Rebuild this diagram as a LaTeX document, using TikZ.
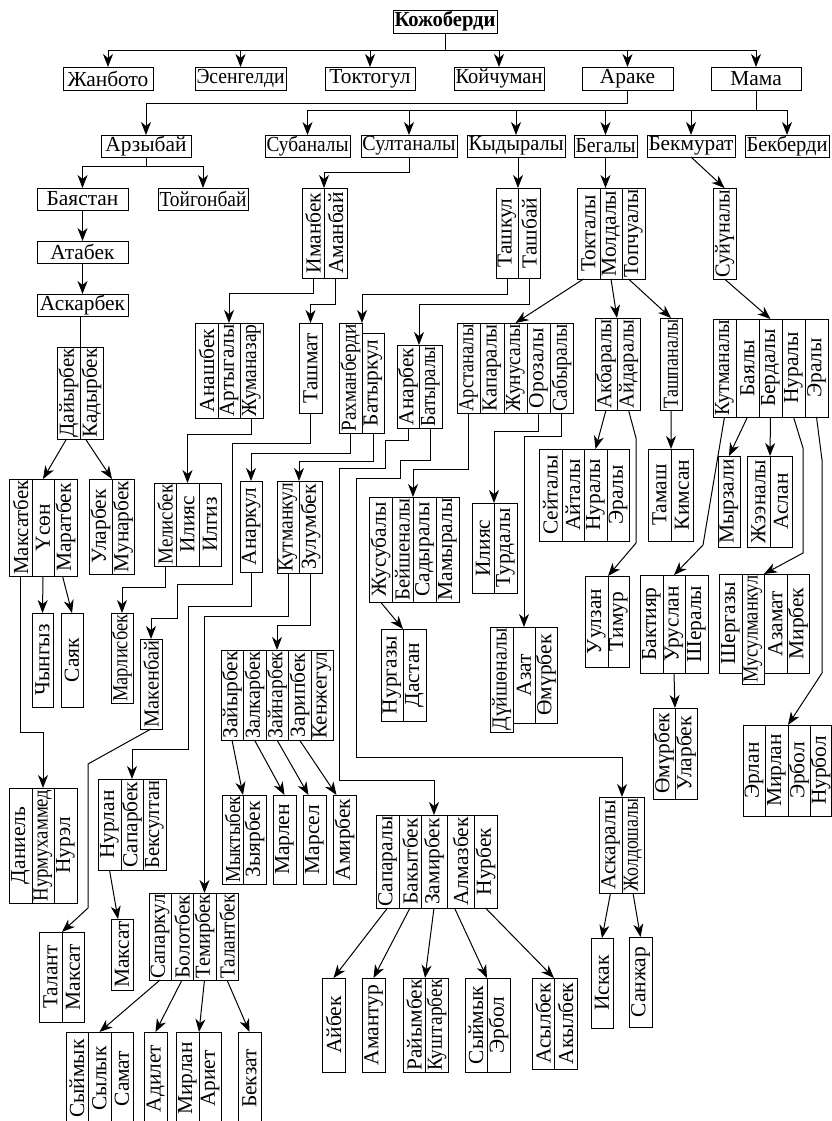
\documentclass[tikz,border=0pt]{standalone}
\usepackage{fontspec}
\setmainfont{Liberation Serif}
\usetikzlibrary{arrows.meta,calc}
\newcommand\tfont{\fontsize{21.5}{23}\selectfont}
\newcommand\fitto[2]{\setbox0=\hbox{#2}\ifdim\wd0>#1\relax\resizebox{#1}{\height}{\box0}\else\box0\fi}
\tikzset{
  col/.style={draw, line width=1bp, inner sep=0pt, outer sep=0pt, font=\tfont},
  hb/.style={draw, line width=1bp, inner sep=0pt, outer sep=0pt, font=\tfont},
  conn/.style={line width=1bp},
  arr/.style={conn, -{Stealth[length=13bp,width=10bp,inset=4bp]}},
}
% vertical column: name, x1, x2, y1, y2, text
\newcommand\vc[6]{\node[col, minimum width={(#3-#2)*1bp}, minimum height={(#5-#4)*1bp}] (#1) at ({(#2+#3)/2},{(#4+#5)/2}) {\makebox[0pt]{\rotatebox{90}{\fitto{\dimexpr #5bp-#4bp-3bp\relax}{#6}}}};}
% horizontal box
\newcommand\hc[6]{\node[hb, minimum width={(#3-#2)*1bp}, minimum height={(#5-#4)*1bp}] (#1) at ({(#2+#3)/2},{(#4+#5)/2}) {\fitto{\dimexpr #3bp-#2bp-3bp\relax}{#6}};}
\begin{document}
\begin{tikzpicture}[x=1bp,y=-1bp]
\useasboundingbox (0,0) rectangle (832,1121);
\fill[white] (0,0) rectangle (832,1121);
\clip (0,0) rectangle (832,1121);
% ---- top rows
\hc{root}{393}{497}{10}{33}{\textbf{Кожоберди}}
\hc{zhan}{63}{153}{67}{90}{Жанбото}
\hc{esen}{195}{286}{67}{90}{Эсенгелди}
\hc{toktog}{325}{415}{67}{90}{Токтогул}
\hc{koich}{454}{544}{67}{90}{Койчуман}
\hc{arake}{582}{673}{67}{90}{Араке}
\hc{mama}{711}{801}{67}{90}{Мама}
\hc{arzy}{101}{191}{135}{157}{Арзыбай}
\hc{suban}{265}{350}{135}{157}{Субаналы}
\hc{sultan}{361}{457}{135}{157}{Султаналы}
\hc{kydyr}{467}{565}{135}{157}{Кыдыралы}
\hc{begaly}{574}{637}{135}{157}{Бегалы}
\hc{bekmur}{647}{735}{135}{157}{Бекмурат}
\hc{bekber}{745}{829}{135}{157}{Бекберди}
\hc{bayas}{37}{128}{188}{210}{Баястан}
\hc{toygon}{158}{248}{188}{210}{Тойгонбай}
\hc{atab}{37}{128}{241}{263}{Атабек}
\hc{askar}{37}{128}{294}{316}{Аскарбек}
% ---- columns
\vc{dayyr}{57}{80}{347}{439}{Дайырбек}
\vc{kadyr}{80}{103}{347}{439}{Кадырбек}
\vc{maks}{9}{32}{479}{576}{Максатбек}
\vc{usen}{32}{54}{479}{576}{Үсөн}
\vc{marat}{54}{77}{479}{576}{Маратбек}
\vc{ular}{89}{112}{479}{574}{Уларбек}
\vc{munar}{112}{134}{479}{574}{Мунарбек}
\vc{chyn}{32}{53}{613}{707}{Чынгыз}
\vc{sayak}{61}{83}{613}{707}{Саяк}
\vc{dan}{9}{32}{788}{903}{Даниель}
\vc{nurm}{32}{54}{788}{903}{Нурмухаммед}
\vc{nurel}{54}{77}{788}{903}{Нурэл}
\vc{iman}{302}{324}{188}{278}{Иманбек}
\vc{aman}{324}{347}{188}{278}{Аманбай}
\vc{tashk}{496}{518}{188}{278}{Ташкул}
\vc{tashb}{518}{540}{188}{278}{Ташбай}
\vc{tokt}{577}{600}{188}{279}{Токталы}
\vc{mold}{600}{622}{188}{279}{Молдалы}
\vc{topch}{622}{645}{188}{279}{Топчуалы}
\vc{suyun}{713}{736}{188}{279}{Суйүналы}
\vc{anash}{195}{218}{323}{418}{Анашбек}
\vc{artyg}{218}{240}{323}{418}{Артыгалы}
\vc{zhuman}{240}{263}{323}{418}{Жуманазар}
\vc{tashmat}{299}{322}{323}{413}{Ташмат}
\vc{rakhm}{339}{362}{323}{433}{Рахманберди}
\vc{batyrk}{362}{384}{333}{433}{Батыркул}
\vc{anarb}{397}{419}{345}{428}{Анарбек}
\vc{batyral}{419}{442}{345}{428}{Батыралы}
\vc{arst}{457}{480}{323}{413}{Арстаналы}
\vc{kapar}{480}{504}{323}{413}{Капаралы}
\vc{zhunus}{504}{527}{323}{413}{Жунусалы}
\vc{oroz}{527}{550}{323}{413}{Орозалы}
\vc{sabyr}{550}{573}{323}{413}{Сабыралы}
\vc{akbar}{595}{617}{318}{410}{Акбаралы}
\vc{aydar}{617}{640}{318}{410}{Айдаралы}
\vc{tashp}{660}{682}{318}{410}{Ташпаналы}
\vc{kutm}{713}{736}{319}{417}{Кутманалы}
\vc{bayaly}{736}{759}{319}{417}{Баялы}
\vc{berd}{759}{782}{319}{417}{Бердалы}
\vc{nural}{782}{805}{319}{417}{Нуралы}
\vc{eral}{805}{828}{319}{417}{Эралы}
\vc{melis}{154}{176}{483}{566}{Мелисбек}
\vc{iliy}{176}{199}{483}{566}{Илияс}
\vc{ilgiz}{199}{221}{483}{566}{Илгиз}
\vc{anarkul}{240}{262}{481}{572}{Анаркул}
\vc{kutmk}{277}{299}{481}{573}{Кутманкул}
\vc{zulum}{299}{322}{481}{573}{Зулумбек}
\vc{zhusub}{369}{392}{497}{602}{Жусубалы}
\vc{beysh}{392}{413}{497}{602}{Бейшеналы}
\vc{sadyr}{413}{436}{497}{602}{Садыралы}
\vc{mamyr}{436}{459}{497}{602}{Мамыралы}
\vc{iliy2}{472}{494}{503}{593}{Илияс}
\vc{turd}{494}{517}{503}{593}{Турдалы}
\vc{seyt}{539}{562}{449}{541}{Сейталы}
\vc{aytal}{562}{584}{449}{541}{Айталы}
\vc{nural2}{584}{607}{449}{541}{Нуралы}
\vc{eral2}{607}{629}{449}{541}{Эралы}
\vc{tamash}{648}{671}{449}{541}{Тамаш}
\vc{kimsan}{671}{693}{449}{541}{Кимсан}
\vc{myrz}{718}{740}{456}{547}{Мырзали}
\vc{zheen}{747}{770}{456}{547}{Жээналы}
\vc{aslan}{770}{792}{456}{547}{Аслан}
\vc{uulz}{585}{608}{576}{667}{Уулзан}
\vc{timur}{608}{629}{576}{667}{Тимур}
\vc{bakt}{640}{663}{575}{673}{Бактияр}
\vc{urusl}{663}{685}{575}{673}{Уруслан}
\vc{sheral}{685}{708}{575}{673}{Шералы}
\vc{sherg}{719}{742}{574}{673}{Шергазы}
\vc{musl}{742}{764}{574}{684}{Мусулманкул}
\vc{azam}{764}{787}{574}{673}{Азамат}
\vc{mirb}{787}{809}{574}{673}{Мирбек}
\vc{marlis}{111}{133}{613}{703}{Марлисбек}
\vc{maken}{140}{162}{639}{729}{Макенбай}
\vc{duysh}{490}{513}{627}{732}{Дүйшөналы}
\vc{azat}{513}{535}{627}{723}{Азат}
\vc{omurb}{535}{557}{627}{723}{Өмүрбек}
\vc{nurg}{381}{403}{629}{721}{Нургазы}
\vc{dastan}{403}{426}{629}{721}{Дастан}
\vc{zayyr}{221}{243}{650}{740}{Зайырбек}
\vc{zalk}{243}{266}{650}{740}{Залкарбек}
\vc{zayn}{266}{288}{650}{740}{Зайнарбек}
\vc{zarip}{288}{311}{650}{740}{Зарипбек}
\vc{kenzh}{311}{333}{650}{740}{Кенжегул}
\vc{omur2}{653}{675}{708}{799}{Өмүрбек}
\vc{ular2}{675}{697}{708}{799}{Уларбек}
\vc{erlan}{743}{765}{725}{816}{Эрлан}
\vc{mirl2}{765}{788}{725}{816}{Мирлан}
\vc{erbol}{788}{810}{725}{816}{Эрбол}
\vc{nurbol}{810}{831}{725}{816}{Нурбол}
\vc{nurlan}{98}{121}{779}{870}{Нурлан}
\vc{saparb}{121}{143}{779}{870}{Сапарбек}
\vc{beks}{143}{166}{779}{870}{Бексултан}
\vc{mykt}{222}{243}{795}{884}{Мыктыбек}
\vc{zyyar}{243}{266}{795}{884}{Зыярбек}
\vc{marlen}{273}{296}{795}{884}{Марлен}
\vc{marsel}{303}{326}{795}{884}{Марсел}
\vc{amir}{333}{356}{795}{884}{Амирбек}
\vc{askar2}{599}{622}{797}{893}{Аскаралы}
\vc{zhold}{622}{644}{797}{893}{Жолдошалы}
\vc{sapar}{376}{399}{815}{908}{Сапаралы}
\vc{bakyt}{399}{421}{815}{908}{Бакытбек}
\vc{zamir}{421}{447}{815}{908}{Замирбек}
\vc{almaz}{447}{474}{815}{908}{Алмазбек}
\vc{nurb}{474}{497}{815}{908}{Нурбек}
\vc{sapark}{149}{171}{893}{980}{Сапаркул}
\vc{bolot}{171}{193}{893}{980}{Болотбек}
\vc{temir}{193}{216}{893}{980}{Темирбек}
\vc{talantb}{216}{238}{893}{980}{Талантбек}
\vc{maksat1}{111}{133}{919}{990}{Максат}
\vc{talant}{39}{62}{932}{1022}{Талант}
\vc{maksat2}{62}{84}{932}{1022}{Максат}
\vc{iskak}{591}{613}{938}{1028}{Искак}
\vc{sanzh}{629}{652}{937}{1027}{Санжар}
\vc{aybek}{322}{345}{978}{1072}{Айбек}
\vc{amant}{362}{385}{978}{1072}{Амантур}
\vc{rayym}{403}{425}{978}{1072}{Райымбек}
\vc{kusht}{425}{448}{978}{1072}{Куштарбек}
\vc{syym2}{465}{487}{978}{1072}{Сыймык}
\vc{erbol2}{487}{510}{978}{1072}{Эрбол}
\vc{asyl}{532}{554}{978}{1069}{Асылбек}
\vc{akyl}{554}{577}{978}{1069}{Акылбек}
\vc{syym1}{66}{88}{1032}{1125}{Сыймык}
\vc{sylyk}{88}{111}{1032}{1125}{Сылык}
\vc{samat}{111}{133}{1032}{1125}{Самат}
\vc{adilet}{144}{167}{1032}{1125}{Адилет}
\vc{mirl3}{176}{199}{1032}{1125}{Мирлан}
\vc{ariet}{199}{221}{1032}{1125}{Ариет}
\vc{bekzat}{238}{261}{1032}{1125}{Бекзат}
% ---- connectors
\coordinate (b1) at (0,50);
\coordinate (b2) at (0,110);
\coordinate (b3) at (0,166);
\draw[conn] (root.south) -- (root.south |- b1);
\draw[conn] (zhan.north |- b1) -- (mama.north |- b1);
\foreach \n in {zhan,esen,toktog,koich,arake,mama} \draw[arr] (\n.north |- b1) -- (\n.north);
\draw[arr] (arake.south) -- ++(0,13) -| (arzy.north);
\draw[conn] (mama.south) -- (mama.south |- b2);
\draw[conn] (suban.north |- b2) -- (bekber.north |- b2);
\foreach \n in {suban,sultan,kydyr,begaly,bekmur,bekber} \draw[arr] (\n.north |- b2) -- (\n.north);
\draw[conn] (arzy.south) -- (arzy.south |- b3);
\draw[conn] (bayas.north |- b3) -- (toygon.north |- b3);
\draw[arr] (bayas.north |- b3) -- (bayas.north);
\draw[arr] (toygon.north |- b3) -- (toygon.north);
\draw[arr] (bayas.south) -- (atab.north);
\draw[arr] (atab.south) -- (askar.north);
\draw[conn] (askar.south -| dayyr.north east) -- (dayyr.north east);
\draw[arr] ($(dayyr.south)+(-2,0)$) -- (usen.north);
\draw[arr] ($(kadyr.south)+(-6,0)$) -- (ular.north east);
\draw[arr] (usen.south) -- (chyn.north);
\draw[arr] ($(marat.south)+(-3,0)$) -- (sayak.north);
\draw[arr] (maks.south) -- ++(0,156) -| (nurm.north);
\draw[arr] (sultan.south) -- ++(0,15) -| (iman.north east);
\draw[arr] (tashk.north east |- kydyr.south) -- (tashk.north east);
\draw[arr] (begaly.south) -- (begaly.south |- tokt.north);
\draw[arr] (bekmur.south) -- (suyun.north);
\draw[arr] (iman.south) -- ++(0,15) -| (artyg.north);
\draw[arr] (aman.south) -- ++(0,26) -| (tashmat.north);
\draw[arr] (tashk.south) -- ++(0,16) -| (rakhm.north east);
\draw[arr] (tashb.south) -- ++(0,26) -| (anarb.north east);
\draw[arr] ($(tokt.south)+(-5,0)$) -- (zhunus.north);
\draw[arr] (mold.south) -- (akbar.north east);
\draw[arr] ($(topch.south)+(-5,0)$) -- (tashp.north);
\draw[arr] (suyun.south) -- (berd.north);
\draw[arr] (zhuman.south) -- ++(0,16) -| (iliy.north);
\draw[arr] (tashmat.south) -- ++(0,30) -| (232,584) -| (177,618) -| (maken.north);
\draw[arr] (rakhm.south) -- ++(0,20) -| (anarkul.north);
\draw[arr] (batyrk.south) -- ++(0,28) -| (kutmk.north east);
\draw[arr] (anarb.south) -- ++(0,12) -| (385,468) -| (339,780) -| (zamir.north);
\draw[arr] (batyral.south) -- ++(0,32) -| (400,478) -| (356,757) -| (zhold.north west);
\draw[arr] (sabyr.south) -- ++(0,23) -| (azat.north);
\draw[arr] (arst.south) -- ++(0,56) -| (beysh.north east);
\draw[arr] (oroz.south) -- ++(0,18) -| (iliy2.north east);
\draw[arr] (zhusub.south) -- (nurg.north east);
\draw[arr] (akbar.south) -- (nural2.north);
\draw[arr] (aydar.south) -- (636,438) -- (636,543) -- (uulz.north east);
\draw[arr] (tashp.south) -- (tamash.north east);
\draw[arr] (kutm.south) -- (703,545) -- (urusl.north);
\draw[arr] (bayaly.south) -- (myrz.north);
\draw[arr] (berd.south) -- (zheen.north east);
\draw[arr] (nural.south) -- (803,448) -- (803,553) -- (musl.north east);
\draw[arr] (eral.south) -- (822,460) -- (822,673) -- (mirl2.north east);
\draw[arr] (urusl.south) -- (omur2.north east);
\draw[arr] (askar2.south) -- (iskak.north);
\draw[arr] (zhold.south) -- (sanzh.north);
\draw[arr] (zulum.south) -- ++(0,52) -| (zayn.north);
\draw[arr] (kutmk.south) -- ++(0,43) -| (temir.north);
\draw[arr] (zayyr.south) -- (mykt.north east);
\draw[arr] (zalk.south) -- (marlen.north);
\draw[arr] (zayn.south) -- ($(marsel.north)+(-6,0)$);
\draw[arr] (zarip.south) -- ($(amir.north)+(-8,0)$);
\draw[arr] (melis.south) -- ++(0,21) -| (marlis.north);
\draw[arr] (anarkul.south) -- ++(0,34) -| (188,749) -| (saparb.north);
\draw[arr] (maken.south) -- (88,764) -- (88,908) -- (talant.north east);
\draw[arr] (nurlan.south) -- ($(maksat1.north)+(-4,0)$);
\draw[arr] (sapark.south) -- (sylyk.north);
\draw[arr] (bolot.south) -- (adilet.north);
\draw[arr] (temir.south) -- (mirl3.north east);
\draw[arr] (talantb.south) -- (bekzat.north);
\draw[arr] (sapar.south) -- (aybek.north);
\draw[arr] (bakyt.south) -- (amant.north);
\draw[arr] (zamir.south) -- (rayym.north east);
\draw[arr] ($(almaz.south)+(-6,0)$) -- (syym2.north east);
\draw[arr] (nurb.south) -- (asyl.north east);
\end{tikzpicture}
\end{document}
